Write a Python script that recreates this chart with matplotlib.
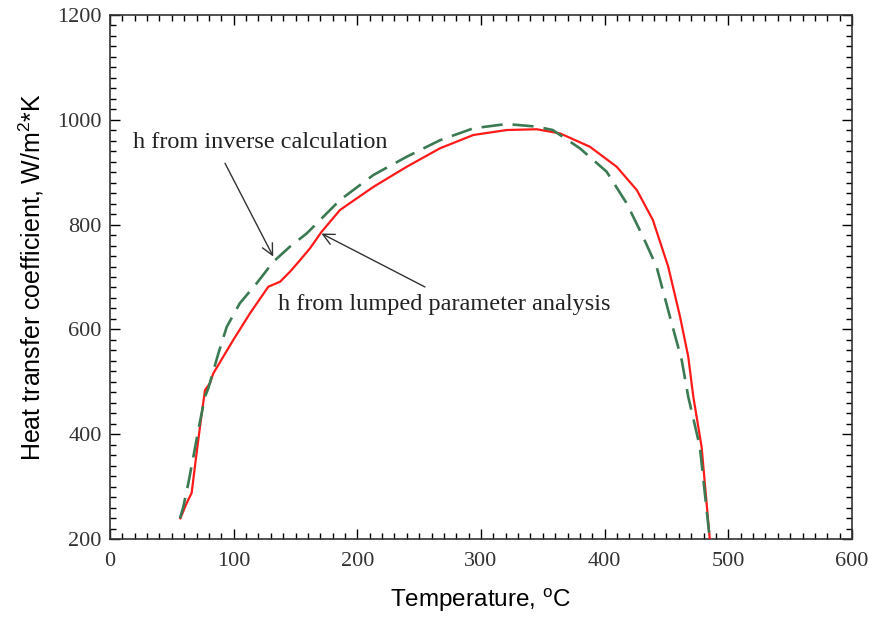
import matplotlib
matplotlib.use("Agg")
import matplotlib.pyplot as plt
from matplotlib.ticker import MultipleLocator

plt.rcParams['mathtext.fontset'] = 'custom'
plt.rcParams['mathtext.rm'] = 'Liberation Sans'
plt.rcParams['mathtext.it'] = 'Liberation Sans:italic'

# Lumped parameter analysis (red solid)
lumped_T = [56.9, 62, 66, 70, 74, 76.8, 80.9, 83.5, 99.7, 113.2, 128, 137.5, 145.5, 153.6,
            161.7, 171, 186, 213, 240, 266.8, 293.8, 320.7, 345, 364, 388, 409.7, 426, 439,
            451.4, 461, 467.6, 471.7, 478.4, 485]
lumped_h = [239.5, 268.7, 287.8, 364, 436.6, 484, 497.7, 516, 580, 630.7, 681.5, 691, 710, 732,
            754.7, 786, 828, 872, 910.5, 945.6, 971, 980.5, 982, 974, 948.7, 910.5, 866, 808.8,
            719.7, 624, 548, 471.6, 376, 200]

# Inverse calculation (green dashed)
inverse_T = [56.6, 59.3, 63.3, 67.4, 71.4, 76.8, 79.5, 87.6, 94.4, 105, 118.6, 132, 145.5, 159,
             186, 213, 240, 266.8, 293.8, 320.7, 345, 358, 380, 401.6, 417.8, 431, 442, 452.8,
             462.3, 467.6, 477, 485]
inverse_h = [239.5, 261.6, 306, 357, 408, 471.6, 487.6, 554, 605, 650, 688, 729, 758, 783,
             847, 894.7, 929.6, 961, 983.8, 992, 987, 980.5, 945.6, 901, 840.6, 777, 719.7, 624,
             541.6, 471.6, 376, 200]

fig = plt.figure(figsize=(8.69, 6.23), dpi=100)
ax = fig.add_axes([0.1266, 0.1348, 0.8538, 0.8411])

ax.plot(lumped_T, lumped_h, color='#ff1a1a', lw=1.6, zorder=3)
ax.plot(inverse_T, inverse_h, color='#3b7a52', lw=1.9, dashes=(8, 3.8), zorder=4)

ax.set_xlim(0, 600)
ax.set_ylim(200, 1200)
ax.xaxis.set_major_locator(MultipleLocator(100))
ax.xaxis.set_minor_locator(MultipleLocator(10))
ax.yaxis.set_major_locator(MultipleLocator(200))
ax.yaxis.set_minor_locator(MultipleLocator(20))
ax.tick_params(which='both', direction='in', top=True, right=True, width=1.0)
ax.tick_params(which='major', length=7)
ax.tick_params(which='minor', length=4)
for lab in ax.get_xticklabels() + ax.get_yticklabels():
    lab.set_fontfamily('Liberation Serif')
    lab.set_fontsize(16)
    lab.set_color('#333333')
ax.tick_params(axis='x', pad=9)
ax.tick_params(axis='y', pad=6)
for s in ax.spines.values():
    s.set_linewidth(1.2)
    s.set_color('#333333')

ax.set_xlabel(r'Temperature, $^{\mathrm{o}}$C', fontfamily='Liberation Sans', fontsize=17.5, labelpad=12)
ax.set_ylabel(r'Heat transfer coefficient, W/m$^{\mathrm{2}}$*K', fontfamily='Liberation Sans',
              fontsize=18, labelpad=8)

arrow_kw = dict(arrowstyle='->', color='#333333', lw=1.0, shrinkA=0, shrinkB=0, mutation_scale=20)

ax.text(18.6, 957, 'h from inverse calculation', fontfamily='Liberation Serif', fontsize=17.5,
        color='#222222', va='center', ha='left')
ax.annotate('', xy=(132, 739), xytext=(93, 917), arrowprops=arrow_kw)

ax.text(136, 646.6, 'h from lumped parameter analysis', fontfamily='Liberation Serif', fontsize=17.5,
        color='#222222', va='center', ha='left')
ax.annotate('', xy=(171, 783), xytext=(254.7, 681), arrowprops=arrow_kw)

fig.savefig('out.png', dpi=100)
